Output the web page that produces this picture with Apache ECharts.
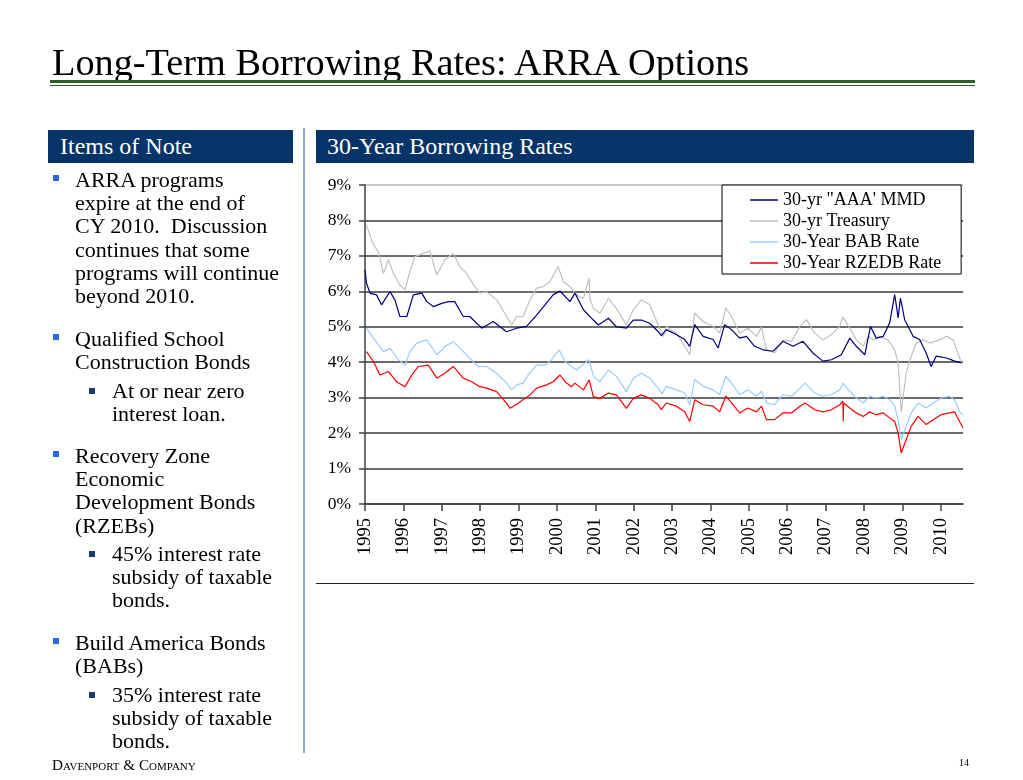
<!DOCTYPE html>
<html><head><meta charset="utf-8">
<script src="https://cdn.jsdelivr.net/npm/echarts@6/dist/echarts.min.js"></script>
<style>
html,body{margin:0;padding:0;background:#fff;}
body{width:1023px;height:780px;position:relative;overflow:hidden;font-family:"Liberation Serif","Times New Roman",serif;color:#000;}
#chart{position:absolute;left:0;top:0;width:1023px;height:780px;}
.abs{position:absolute;white-space:nowrap;}
.title{left:52px;top:43px;font-size:38.3px;line-height:38px;}
.gl1{left:50px;top:80px;width:925px;height:3px;background:#2e5e2a;}
.gl2{left:50px;top:85px;width:925px;height:1px;background:#2e5e2a;}
.hdr{background:#063468;color:#fff;font-size:24px;line-height:33px;box-sizing:border-box;height:33px;top:130px;}
.sep{left:303px;top:128px;width:1.5px;height:625px;background:#8fa3d6;}
.p{font-size:22px;line-height:23.2px;}
.b1{width:6px;height:6px;background:#2a6ae0;}
.b2{width:6px;height:6px;background:#173a70;}
.rule{left:316px;top:583px;width:658px;height:1px;background:#222;}
.foot{left:52px;top:757px;font-size:15.2px;font-variant:small-caps;line-height:15px;}
.pg{left:959px;top:757px;font-size:10px;line-height:12px;}
</style>
</head>
<body>
<div id="chart"></div>
<div class="abs title">Long-Term Borrowing Rates: ARRA Options</div>
<div class="abs gl1"></div>
<div class="abs gl2"></div>
<div class="abs hdr" style="left:48px;width:245px;padding-left:12px;">Items of Note</div>
<div class="abs hdr" style="left:316px;width:658px;padding-left:11px;">30-Year Borrowing Rates</div>
<div class="abs sep"></div>
<div class="abs rule"></div>

<div class="abs b1" style="left:53px;top:175px;"></div>
<div class="abs p" style="left:75px;top:168px;">ARRA programs<br>expire at the end of<br>CY 2010.&nbsp; Discussion<br>continues that some<br>programs will continue<br>beyond 2010.</div>

<div class="abs b1" style="left:53px;top:334px;"></div>
<div class="abs p" style="left:75px;top:327px;">Qualified School<br>Construction Bonds</div>

<div class="abs b2" style="left:89px;top:388px;"></div>
<div class="abs p" style="left:112px;top:379px;">At or near zero<br>interest loan.</div>

<div class="abs b1" style="left:53px;top:451px;"></div>
<div class="abs p" style="left:75px;top:444px;">Recovery Zone<br>Economic<br>Development Bonds<br>(RZEBs)</div>

<div class="abs b2" style="left:89px;top:551px;"></div>
<div class="abs p" style="left:112px;top:542px;">45% interest rate<br>subsidy of taxable<br>bonds.</div>

<div class="abs b1" style="left:53px;top:638px;"></div>
<div class="abs p" style="left:75px;top:631px;">Build America Bonds<br>(BABs)</div>

<div class="abs b2" style="left:89px;top:692px;"></div>
<div class="abs p" style="left:112px;top:683px;">35% interest rate<br>subsidy of taxable<br>bonds.</div>

<div class="abs foot">Davenport &amp; Company</div>
<div class="abs pg">14</div>

<script>
const yearTicks = [1995,1996,1997,1998,1999,2000,2001,2002,2003,2004,2005,2006,2007,2008,2009,2010];
const seriesNames = ['30-yr "AAA\' MMD', '30-yr Treasury', '30-Year BAB Rate', '30-Year RZEDB Rate'];

const mmd = [[1995.00,6.6],[1995.04,6.23],[1995.13,5.95],[1995.30,5.9],[1995.43,5.62],[1995.65,5.99],[1995.78,5.76],[1995.91,5.29],[1996.09,5.29],[1996.26,5.9],[1996.48,5.95],[1996.61,5.71],[1996.78,5.57],[1997.00,5.66],[1997.17,5.71],[1997.34,5.71],[1997.56,5.29],[1997.73,5.29],[1998.04,4.96],[1998.34,5.15],[1998.69,4.86],[1998.95,4.96],[1999.21,5.01],[1999.47,5.33],[1999.69,5.62],[1999.90,5.9],[2000.08,6.01],[2000.34,5.71],[2000.47,5.95],[2000.69,5.48],[2000.95,5.19],[2001.08,5.05],[2001.34,5.24],[2001.55,5.0],[2001.81,4.96],[2001.99,5.19],[2002.20,5.19],[2002.42,5.1],[2002.64,4.86],[2002.72,4.75],[2002.85,4.92],[2003.11,4.78],[2003.33,4.64],[2003.46,4.45],[2003.59,5.06],[2003.81,4.73],[2004.07,4.64],[2004.20,4.4],[2004.37,5.06],[2004.55,4.92],[2004.76,4.68],[2004.94,4.73],[2005.15,4.45],[2005.37,4.35],[2005.63,4.31],[2005.89,4.59],[2006.15,4.45],[2006.41,4.59],[2006.67,4.26],[2006.93,4.03],[2007.15,4.07],[2007.41,4.21],[2007.63,4.68],[2007.80,4.45],[2008.02,4.21],[2008.17,5.01],[2008.32,4.68],[2008.50,4.73],[2008.67,5.11],[2008.80,5.91],[2008.89,5.25],[2008.95,5.81],[2009.06,5.2],[2009.28,4.73],[2009.45,4.64],[2009.62,4.26],[2009.75,3.88],[2009.88,4.17],[2010.15,4.12],[2010.36,4.03],[2010.54,3.98]];

const treasury = [[1995.03,7.89],[1995.22,7.31],[1995.35,7.12],[1995.48,6.5],[1995.61,6.9],[1995.74,6.5],[1995.91,6.18],[1996.04,6.04],[1996.17,6.56],[1996.30,6.98],[1996.52,7.07],[1996.69,7.14],[1996.87,6.46],[1997.08,6.89],[1997.30,7.07],[1997.47,6.7],[1997.65,6.5],[1997.86,6.13],[1997.99,5.95],[1998.17,5.99],[1998.43,5.76],[1998.69,5.29],[1998.82,5.05],[1998.95,5.29],[1999.12,5.29],[1999.30,5.76],[1999.47,6.09],[1999.64,6.13],[1999.82,6.27],[2000.03,6.7],[2000.17,6.27],[2000.34,6.13],[2000.51,5.9],[2000.69,5.8],[2000.84,6.37],[2000.86,5.8],[2000.95,5.52],[2001.12,5.38],[2001.34,5.8],[2001.55,5.52],[2001.81,5.05],[2001.99,5.48],[2002.20,5.76],[2002.42,5.62],[2002.64,5.05],[2002.77,4.72],[2002.85,5.01],[2003.11,4.82],[2003.33,4.45],[2003.46,4.21],[2003.59,5.39],[2003.81,5.15],[2004.07,5.01],[2004.24,4.82],[2004.40,5.53],[2004.55,5.29],[2004.76,4.82],[2004.98,4.96],[2005.20,4.73],[2005.33,4.99],[2005.46,4.35],[2005.67,4.26],[2005.89,4.63],[2006.11,4.59],[2006.33,5.01],[2006.50,5.2],[2006.72,4.82],[2006.93,4.63],[2007.15,4.78],[2007.37,5.01],[2007.45,5.28],[2007.63,4.96],[2007.80,4.63],[2007.98,4.45],[2008.11,4.73],[2008.24,4.63],[2008.41,4.73],[2008.63,4.63],[2008.80,4.35],[2008.89,3.98],[2008.97,2.6],[2009.10,3.7],[2009.23,4.17],[2009.36,4.54],[2009.54,4.63],[2009.71,4.54],[2009.97,4.63],[2010.15,4.73],[2010.32,4.63],[2010.45,4.26],[2010.54,3.98]];

const bab = [[1995.04,4.96],[1995.22,4.68],[1995.48,4.3],[1995.65,4.39],[1995.87,4.07],[1996.04,3.92],[1996.17,4.3],[1996.35,4.54],[1996.61,4.63],[1996.87,4.21],[1997.08,4.44],[1997.30,4.58],[1997.56,4.3],[1997.73,4.11],[1997.95,3.88],[1998.17,3.88],[1998.43,3.69],[1998.69,3.41],[1998.82,3.22],[1998.95,3.36],[1999.12,3.41],[1999.25,3.64],[1999.47,3.92],[1999.69,3.92],[1999.86,4.07],[2000.06,4.35],[2000.21,4.02],[2000.38,3.88],[2000.51,3.78],[2000.84,4.07],[2000.95,3.6],[2001.12,3.45],[2001.34,3.78],[2001.55,3.6],[2001.81,3.17],[2001.99,3.55],[2002.20,3.69],[2002.42,3.55],[2002.64,3.27],[2002.74,3.1],[2002.85,3.32],[2003.11,3.22],[2003.33,3.13],[2003.46,2.8],[2003.59,3.51],[2003.81,3.32],[2004.07,3.22],[2004.24,3.09],[2004.40,3.6],[2004.55,3.41],[2004.76,3.09],[2004.98,3.22],[2005.20,3.04],[2005.33,3.18],[2005.46,2.85],[2005.67,2.8],[2005.89,3.09],[2006.11,3.04],[2006.33,3.27],[2006.46,3.41],[2006.72,3.13],[2006.93,3.04],[2007.15,3.09],[2007.37,3.22],[2007.45,3.41],[2007.63,3.18],[2007.80,2.99],[2007.98,2.85],[2008.15,3.04],[2008.32,2.99],[2008.50,3.04],[2008.67,2.94],[2008.80,2.76],[2008.89,2.38],[2008.97,1.82],[2009.10,2.19],[2009.23,2.57],[2009.41,2.85],[2009.62,2.71],[2009.80,2.85],[2010.01,2.99],[2010.23,3.04],[2010.36,2.94],[2010.49,2.6],[2010.58,2.52]];

const rzedb = [[1995.04,4.3],[1995.22,4.02],[1995.39,3.64],[1995.61,3.74],[1995.82,3.45],[1996.04,3.31],[1996.22,3.64],[1996.39,3.88],[1996.65,3.92],[1996.87,3.55],[1997.08,3.69],[1997.30,3.88],[1997.56,3.55],[1997.78,3.45],[1997.99,3.31],[1998.17,3.27],[1998.43,3.17],[1998.69,2.84],[1998.78,2.7],[1998.99,2.84],[1999.17,2.98],[1999.30,3.08],[1999.47,3.27],[1999.73,3.36],[1999.90,3.45],[2000.08,3.64],[2000.21,3.45],[2000.38,3.31],[2000.47,3.41],[2000.69,3.22],[2000.84,3.5],[2000.95,3.03],[2001.12,2.98],[2001.34,3.13],[2001.55,3.08],[2001.81,2.7],[2001.99,2.98],[2002.20,3.08],[2002.42,2.98],[2002.64,2.8],[2002.72,2.66],[2002.85,2.85],[2003.11,2.76],[2003.33,2.6],[2003.46,2.33],[2003.59,2.94],[2003.81,2.8],[2004.07,2.76],[2004.24,2.6],[2004.40,3.04],[2004.55,2.85],[2004.76,2.57],[2004.98,2.71],[2005.20,2.6],[2005.33,2.76],[2005.46,2.38],[2005.67,2.38],[2005.89,2.57],[2006.11,2.57],[2006.33,2.76],[2006.46,2.85],[2006.72,2.66],[2006.93,2.6],[2007.15,2.66],[2007.37,2.8],[2007.45,2.9],[2007.46,2.33],[2007.47,2.85],[2007.63,2.71],[2007.80,2.57],[2007.98,2.47],[2008.15,2.6],[2008.32,2.52],[2008.50,2.57],[2008.67,2.43],[2008.80,2.33],[2008.89,2.0],[2008.97,1.44],[2009.10,1.82],[2009.23,2.19],[2009.41,2.47],[2009.62,2.24],[2009.80,2.38],[2010.01,2.52],[2010.23,2.57],[2010.36,2.6],[2010.49,2.33],[2010.58,2.15]];

const font = '"Liberation Serif", "Times New Roman", serif';
const chart = echarts.init(document.getElementById('chart'), null, {renderer: 'canvas'});
const gridColors = ['#3a3a3a','#3a3a3a','#3a3a3a','#3a3a3a','#3a3a3a','#3a3a3a','#3a3a3a','#3a3a3a','#3a3a3a','#b8b8b8'];
chart.setOption({
  animation: false,
  grid: {left: 365, top: 185, right: 60, bottom: 276, containLabel: false},
  xAxis: {
    type: 'value', min: 1995, max: 2010.58, interval: 1,
    axisLine: {show: true, lineStyle: {color: '#404040', width: 1.5}},
    axisTick: {show: true, length: 7, customValues: yearTicks, lineStyle: {color: '#404040', width: 1.5}},
    axisLabel: {customValues: yearTicks, rotate: 90, margin: 14, fontFamily: font, fontSize: 18.5, color: '#000',
      formatter: v => String(Math.round(v))},
    splitLine: {show: false}
  },
  yAxis: {
    type: 'value', min: 0, max: 9, interval: 1,
    axisLine: {show: true, lineStyle: {color: '#404040', width: 1.5}},
    axisTick: {show: true, length: 6, lineStyle: {color: '#404040', width: 1.5}},
    axisLabel: {formatter: '{value}%', margin: 14, fontFamily: font, fontSize: 17.5, color: '#000'},
    splitLine: {show: true, lineStyle: {color: gridColors, width: 1.5}}
  },
  legend: {
    data: seriesNames, orient: 'vertical', left: 722, top: 185,
    backgroundColor: '#fff', borderColor: '#000', borderWidth: 1, borderRadius: 0,
    padding: [6, 20, 2, 28], itemGap: 3, itemWidth: 28, itemHeight: 1.5, icon: 'rect',
    textStyle: {fontFamily: font, fontSize: 18, color: '#000', lineHeight: 18}
  },
  series: [
    {name: seriesNames[1], type: 'line', data: treasury, symbol: 'none', color: '#c0c0c0', lineStyle: {width: 1.2, color: '#c0c0c0'}},
    {name: seriesNames[0], type: 'line', data: mmd, symbol: 'none', color: '#000080', lineStyle: {width: 1.2, color: '#000080'}},
    {name: seriesNames[2], type: 'line', data: bab, symbol: 'none', color: '#99ccff', lineStyle: {width: 1.2, color: '#99ccff'}},
    {name: seriesNames[3], type: 'line', data: rzedb, symbol: 'none', color: '#ff0000', lineStyle: {width: 1.2, color: '#ff0000'}}
  ]
});
</script>
</body></html>
